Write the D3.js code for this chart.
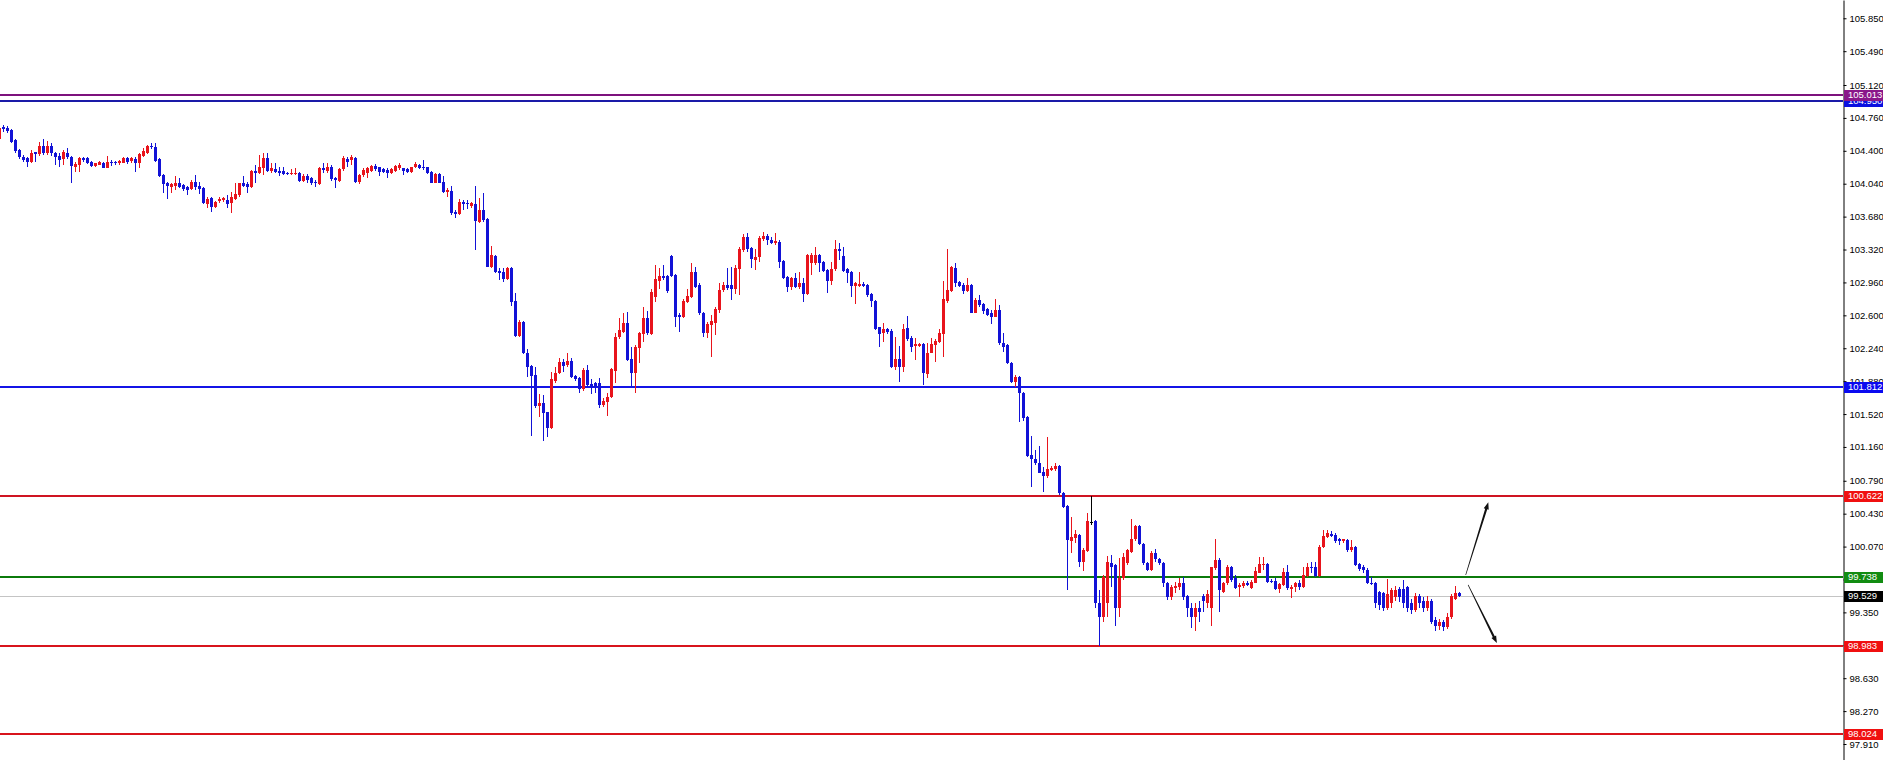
<!DOCTYPE html>
<html><head><meta charset="utf-8">
<script src="https://cdn.jsdelivr.net/npm/d3@7"></script>
<style>html,body{margin:0;padding:0;background:#fff;overflow:hidden}svg{display:block}</style>
</head><body><svg id="c" width="1883" height="760"></svg>
<script>
// ---- data (OHLC per bar) ----
const open = [
104.526,104.664,104.653,104.628,104.518,104.409,104.336,104.318,104.281,104.383,
104.362,104.453,104.372,104.453,104.380,104.343,104.307,104.380,104.336,104.227,
104.245,104.318,104.318,104.281,104.234,104.245,104.270,104.216,104.281,104.278,
104.263,104.270,104.318,104.292,104.311,104.270,104.343,104.372,104.456,104.445,
104.307,104.135,104.044,104.000,104.015,104.044,104.026,104.000,103.979,104.062,
104.015,103.990,103.818,103.880,103.782,103.855,103.862,103.862,103.825,103.876,
103.917,104.044,104.033,104.000,104.183,104.161,104.208,104.318,104.183,104.197,
104.183,104.183,104.161,104.146,104.146,104.161,104.073,104.124,104.099,104.062,
104.037,104.208,104.183,104.227,104.099,104.066,104.197,104.307,104.300,104.318,
104.062,104.135,104.154,104.183,104.234,104.219,104.201,104.190,104.154,104.183,
104.208,104.208,104.197,104.172,104.219,104.245,104.227,104.219,104.172,104.052,
104.146,104.062,103.953,103.964,103.734,103.709,103.844,103.833,103.796,103.818,
103.625,103.753,103.650,103.133,103.249,103.089,103.078,102.994,103.114,102.761,
102.374,102.531,102.192,102.046,101.947,101.608,101.637,101.546,101.364,101.885,
101.973,102.093,102.057,102.104,101.936,101.911,101.790,102.002,101.849,101.856,
101.863,101.619,101.656,101.703,101.995,102.359,102.421,102.520,102.119,101.973,
102.239,102.396,102.567,102.396,102.797,102.979,103.030,103.030,103.249,103.041,
102.604,102.578,102.750,102.797,103.078,102.932,102.622,102.410,102.494,102.520,
102.658,102.877,102.932,102.932,102.885,103.103,103.315,103.453,103.333,103.205,
103.242,103.432,103.468,103.424,103.395,103.406,103.198,103.023,102.906,103.005,
102.906,102.957,102.833,103.176,103.169,103.260,103.187,103.096,102.979,103.103,
103.322,103.249,103.103,103.078,102.921,102.921,102.943,102.932,102.833,102.761,
102.469,102.403,102.447,102.433,102.031,102.119,102.031,102.458,102.349,102.265,
102.265,102.287,101.958,102.192,102.276,102.312,102.396,102.761,102.870,103.115,
102.969,102.932,102.870,102.932,102.630,102.768,102.724,102.666,102.622,102.586,
102.659,102.294,102.276,102.082,101.875,101.929,101.754,101.484,101.072,101.032,
100.989,100.890,100.843,100.908,100.915,100.952,100.660,100.514,100.135,100.160,
100.200,99.900,100.026,100.343,100.354,99.450,99.300,99.450,99.894,99.869,
99.400,99.723,99.887,100.015,100.150,100.295,100.099,99.887,99.814,100.004,
99.931,99.894,99.676,99.522,99.614,99.624,99.668,99.530,99.400,99.300,
99.400,99.530,99.450,99.400,99.832,99.923,99.577,99.668,99.851,99.723,
99.624,99.639,99.676,99.614,99.676,99.785,99.869,99.880,99.697,99.697,
99.603,99.650,99.796,99.603,99.624,99.676,99.624,99.749,99.851,99.851,
99.749,100.062,100.171,100.208,100.197,100.150,100.135,100.142,100.033,100.069,
99.880,99.843,99.814,99.676,99.676,99.570,99.560,99.400,99.450,99.520,
99.610,99.610,99.630,99.450,99.380,99.530,99.480,99.400,99.480,99.270,
99.200,99.240,99.190,99.300,99.500,99.559];
const high = [
104.664,104.682,104.672,104.635,104.526,104.416,104.354,104.329,104.409,104.391,
104.500,104.526,104.511,104.489,104.391,104.372,104.409,104.427,104.343,104.281,
104.329,104.329,104.329,104.292,104.270,104.285,104.281,104.343,104.300,104.292,
104.300,104.336,104.336,104.329,104.336,104.380,104.427,104.464,104.482,104.482,
104.318,104.146,104.062,104.052,104.124,104.099,104.037,104.015,104.081,104.135,
104.062,104.000,103.891,103.898,103.855,103.891,103.891,103.917,103.953,104.044,
104.052,104.124,104.062,104.190,104.245,104.354,104.372,104.380,104.263,104.270,
104.227,104.227,104.172,104.197,104.208,104.172,104.146,104.146,104.117,104.081,
104.219,104.263,104.270,104.245,104.110,104.208,104.343,104.336,104.354,104.329,
104.146,104.208,104.227,104.245,104.256,104.227,104.208,104.208,104.208,104.245,
104.270,104.215,104.208,104.227,104.281,104.256,104.300,104.227,104.183,104.161,
104.154,104.124,103.990,104.015,103.753,103.869,103.862,103.862,103.844,104.015,
103.880,103.942,103.661,103.359,103.260,103.114,103.114,103.125,103.125,102.848,
102.549,102.542,102.228,102.057,102.031,101.739,101.728,101.546,101.984,102.038,
102.130,102.119,102.192,102.130,101.947,101.929,102.020,102.057,101.900,101.874,
101.911,101.692,101.747,102.020,102.410,102.567,102.622,102.640,102.257,102.276,
102.421,102.695,102.651,102.885,103.151,103.114,103.151,103.041,103.260,103.052,
102.629,102.775,102.885,103.169,103.125,102.950,102.640,102.531,102.604,102.695,
102.950,102.968,103.114,103.133,103.151,103.344,103.490,103.497,103.344,103.322,
103.468,103.515,103.490,103.453,103.497,103.424,103.205,103.030,103.023,103.067,
103.078,103.005,103.271,103.278,103.351,103.271,103.198,103.103,103.187,103.424,
103.395,103.344,103.114,103.089,102.968,103.078,102.968,102.943,102.848,102.768,
102.476,102.520,102.458,102.447,102.360,102.265,102.506,102.593,102.374,102.349,
102.301,102.301,102.301,102.349,102.338,102.447,102.980,103.322,103.140,103.169,
102.980,102.950,103.005,102.943,102.786,102.823,102.739,102.677,102.659,102.775,
102.713,102.403,102.287,102.093,101.948,101.937,101.765,101.499,101.280,101.127,
101.171,100.945,101.273,100.952,100.981,100.963,100.671,100.525,100.398,100.252,
100.210,100.050,100.434,100.624,100.360,99.600,99.760,99.967,99.978,99.880,
99.942,99.996,100.040,100.368,100.306,100.306,100.106,99.905,100.026,100.040,
99.942,99.905,99.686,99.650,99.686,99.723,99.734,99.540,99.450,99.450,
99.480,99.550,99.600,99.851,100.150,99.942,99.686,99.869,99.858,99.759,
99.668,99.690,99.690,99.705,99.843,99.953,99.960,99.887,99.712,99.723,
99.676,99.832,99.869,99.650,99.686,99.705,99.850,99.887,99.905,99.905,
100.088,100.252,100.252,100.244,100.215,100.160,100.157,100.150,100.142,100.077,
99.887,99.869,99.832,99.741,99.680,99.580,99.570,99.720,99.620,99.640,
99.630,99.700,99.640,99.500,99.560,99.550,99.520,99.530,99.500,99.300,
99.280,99.270,99.340,99.550,99.636,99.570];
const low = [
104.518,104.610,104.599,104.489,104.380,104.307,104.281,104.227,104.270,104.281,
104.343,104.354,104.354,104.343,104.245,104.219,104.245,104.307,104.044,104.172,
104.172,104.281,104.256,104.227,104.227,104.241,104.208,104.208,104.234,104.245,
104.245,104.263,104.256,104.263,104.172,104.208,104.336,104.365,104.416,104.281,
104.117,103.942,103.869,103.942,103.971,103.990,103.964,103.917,103.971,103.971,
103.928,103.818,103.771,103.734,103.771,103.825,103.844,103.771,103.723,103.862,
103.898,104.000,103.935,103.990,104.044,104.146,104.135,104.172,104.161,104.154,
104.124,104.135,104.135,104.135,104.135,104.062,104.062,104.052,104.026,104.000,
104.026,104.161,104.154,104.073,103.990,104.062,104.183,104.227,104.245,104.044,
104.037,104.117,104.099,104.172,104.183,104.124,104.154,104.099,104.146,104.172,
104.190,104.135,104.154,104.161,104.208,104.197,104.190,104.146,104.044,104.044,
104.044,103.942,103.898,103.698,103.661,103.698,103.753,103.760,103.771,103.315,
103.607,103.625,103.125,103.114,103.067,102.987,102.968,102.987,102.702,102.367,
102.359,102.177,101.922,101.280,101.583,101.484,101.229,101.273,101.353,101.863,
101.958,101.984,102.038,101.911,101.885,101.747,101.776,101.812,101.739,101.747,
101.583,101.594,101.499,101.692,101.856,102.338,102.410,102.104,101.820,101.747,
102.075,102.312,102.385,102.385,102.750,102.885,102.987,102.848,103.023,102.476,
102.421,102.567,102.731,102.786,102.896,102.604,102.367,102.348,102.148,102.385,
102.629,102.859,102.877,102.768,102.833,102.823,103.297,103.297,103.114,103.096,
103.187,103.417,103.370,103.381,103.370,103.114,102.994,102.859,102.877,102.903,
102.885,102.750,102.823,103.041,103.151,103.078,103.078,102.841,102.932,103.089,
103.205,103.078,102.950,102.804,102.724,102.914,102.914,102.804,102.695,102.440,
102.250,102.312,102.396,102.021,102.002,101.875,101.984,102.323,102.203,102.112,
102.250,101.838,101.911,102.185,102.093,102.301,102.141,102.732,102.859,102.907,
102.914,102.834,102.859,102.622,102.622,102.695,102.615,102.593,102.506,102.578,
102.276,102.203,102.068,101.864,101.813,101.437,101.448,101.054,100.726,100.963,
100.872,100.671,100.817,100.901,100.901,100.635,100.489,99.600,100.000,100.106,
99.850,99.800,100.015,100.306,99.400,98.983,99.250,99.300,99.632,99.200,
99.300,99.705,99.869,99.996,100.135,100.088,99.869,99.807,99.807,99.905,
99.869,99.632,99.486,99.486,99.559,99.595,99.486,99.300,99.180,99.150,
99.250,99.350,99.400,99.200,99.814,99.350,99.559,99.650,99.686,99.603,
99.522,99.620,99.640,99.603,99.668,99.778,99.814,99.676,99.668,99.595,
99.559,99.639,99.595,99.504,99.577,99.595,99.614,99.741,99.785,99.741,
99.741,100.051,100.160,100.171,100.106,100.088,100.113,100.015,100.015,99.858,
99.807,99.778,99.661,99.650,99.400,99.380,99.370,99.380,99.400,99.480,
99.460,99.400,99.350,99.330,99.350,99.400,99.350,99.360,99.220,99.150,
99.160,99.150,99.170,99.280,99.490,99.520];
const close = [
104.646,104.635,104.620,104.500,104.402,104.329,104.300,104.281,104.380,104.365,
104.453,104.372,104.453,104.372,104.336,104.300,104.391,104.329,104.234,104.256,
104.318,104.300,104.270,104.234,104.263,104.278,104.216,104.281,104.263,104.263,
104.285,104.318,104.281,104.318,104.270,104.365,104.402,104.453,104.438,104.292,
104.124,104.037,104.015,104.037,104.052,104.008,103.979,103.971,104.062,104.000,
103.979,103.825,103.869,103.782,103.844,103.869,103.880,103.818,103.898,103.928,
104.044,104.015,104.000,104.183,104.161,104.227,104.318,104.183,104.208,104.172,
104.161,104.146,104.146,104.161,104.161,104.073,104.124,104.081,104.044,104.044,
104.208,104.190,104.227,104.088,104.081,104.197,104.318,104.281,104.329,104.062,
104.135,104.190,104.208,104.234,104.197,104.172,104.172,104.154,104.197,104.234,
104.241,104.183,104.172,104.219,104.256,104.208,104.208,104.161,104.052,104.146,
104.052,103.953,103.971,103.723,103.709,103.844,103.818,103.818,103.825,103.636,
103.753,103.643,103.133,103.260,103.078,103.067,102.994,103.114,102.750,102.374,
102.531,102.192,102.038,101.936,101.608,101.645,101.535,101.364,101.900,101.973,
102.093,102.046,102.104,101.929,101.900,101.790,102.002,101.838,101.812,101.820,
101.619,101.666,101.710,102.009,102.367,102.440,102.520,102.111,101.973,102.250,
102.403,102.567,102.403,102.859,102.994,103.030,103.005,102.870,103.030,102.585,
102.585,102.761,102.812,103.078,102.906,102.622,102.410,102.505,102.542,102.666,
102.877,102.932,102.896,102.885,103.114,103.322,103.453,103.322,103.213,103.242,
103.442,103.468,103.424,103.395,103.417,103.187,103.005,102.906,103.005,102.914,
102.957,102.833,103.260,103.260,103.260,103.169,103.089,102.979,103.103,103.322,
103.308,103.089,103.060,102.921,102.950,102.943,102.921,102.823,102.761,102.447,
102.396,102.447,102.421,102.031,102.119,102.031,102.447,102.338,102.258,102.287,
102.287,101.966,102.192,102.287,102.323,102.403,102.775,102.878,103.126,102.958,
102.921,102.870,102.932,102.630,102.768,102.713,102.651,102.604,102.586,102.659,
102.294,102.258,102.075,101.875,101.929,101.747,101.474,101.061,101.025,100.981,
100.879,100.843,100.915,100.926,100.952,100.653,100.500,100.142,100.171,100.208,
99.900,100.030,100.354,100.343,99.450,99.300,99.741,99.905,99.851,99.400,
99.723,99.960,100.033,100.150,100.295,100.099,99.887,99.814,100.004,99.931,
99.887,99.668,99.522,99.624,99.639,99.668,99.522,99.400,99.300,99.400,
99.350,99.480,99.550,99.843,99.923,99.596,99.676,99.851,99.705,99.614,
99.650,99.676,99.650,99.686,99.807,99.880,99.880,99.686,99.686,99.603,
99.661,99.796,99.614,99.632,99.676,99.624,99.759,99.851,99.832,99.749,
100.069,100.186,100.215,100.186,100.135,100.135,100.150,100.033,100.069,99.869,
99.821,99.814,99.668,99.661,99.450,99.430,99.400,99.550,99.600,99.600,
99.520,99.450,99.400,99.380,99.530,99.450,99.400,99.480,99.250,99.200,
99.240,99.190,99.300,99.530,99.559,99.529];

const tickValues = [105.850,105.490,105.120,104.760,104.400,104.040,103.680,103.320,102.960,102.600,
  102.240,101.880,101.520,101.160,100.790,100.430,100.070,99.710,99.350,98.990,98.630,98.270,97.910];

// horizontal price levels (drawn in this order)
const levelValues = [104.950, 105.013, 101.812, 100.622, 99.738, 99.529, 98.983, 98.024];
// arrows: [bar index, price] start -> tip
const arrowStartBar = [366.6, 367.2];
const arrowStartPrice = [99.759, 99.650];
const arrowTipBar = [372.25, 374.4];
const arrowTipPrice = [100.554, 99.015];

// ---- styles ----
const levelLine = ["#1a1aa8", "#7d127d", "#1414e6", "#cf1422", "#0b7a0b", "#c4c4c4", "#d8141c", "#d8141c"];
const levelLineW = [2, 2, 2, 2, 2, 1, 2, 2];
const levelBox = ["#0a10e0", "#8a168a", "#0a0af0", "#f01010", "#128c12", "#000000", "#f01010", "#f01010"];
const BULL = "#e8141c", BEAR = "#1212d6";

const W = 1883, H = 760, AXIS_X = 1843;
const svg = d3.select("#c");
const x = d3.scaleLinear().domain([0, 365]).range([-0.7, 1459.3]);
const y = d3.scaleLinear().domain([106.050, 97.735]).range([0, H]);

svg.append("rect").attr("width", W).attr("height", H).attr("fill", "#fff");

// levels
const gl = svg.append("g").attr("shape-rendering", "crispEdges");
levelValues.forEach((v, k) => {
  const yy = Math.round(y(v));
  gl.append("rect").attr("x", 0).attr("width", AXIS_X)
    .attr("y", yy - (levelLineW[k] > 1 ? 1 : 0)).attr("height", levelLineW[k])
    .attr("fill", levelLine[k]);
});

// candles
const idx = d3.range(open.length);
const gc = svg.append("g").attr("shape-rendering", "crispEdges");
const col = i => close[i] > open[i] ? BULL : (close[i] < open[i] ? BEAR : "#000");
gc.selectAll("rect.w").data(idx).join("rect").attr("class", "w")
  .attr("x", i => Math.round(x(i)))
  .attr("width", 1)
  .attr("y", i => Math.round(y(high[i])))
  .attr("height", i => Math.max(1, Math.round(y(low[i])) - Math.round(y(high[i]))))
  .attr("fill", col);
gc.selectAll("rect.b").data(idx).join("rect").attr("class", "b")
  .attr("x", i => Math.round(x(i)) - 1)
  .attr("width", 3)
  .attr("y", i => Math.round(y(Math.max(open[i], close[i]))))
  .attr("height", i => Math.max(1, Math.round(y(Math.min(open[i], close[i]))) - Math.round(y(Math.max(open[i], close[i])))))
  .attr("fill", col);

// arrows
arrowStartBar.forEach((b, k) => {
  const x0 = x(b), y0 = y(arrowStartPrice[k]);
  const x1 = x(arrowTipBar[k]), y1 = y(arrowTipPrice[k]);
  const dx = x1 - x0, dy = y1 - y0, L = Math.hypot(dx, dy);
  const ux = dx / L, uy = dy / L, nx = -uy, ny = ux;
  const hl = 7, hw = 2.6, w0 = 0.35, w1 = 1.1;
  const bx = x1 - ux * hl, by = y1 - uy * hl;
  const pts = [
    [x0 + nx * w0, y0 + ny * w0], [bx + nx * w1, by + ny * w1], [bx + nx * hw, by + ny * hw],
    [x1, y1], [bx - nx * hw, by - ny * hw], [bx - nx * w1, by - ny * w1], [x0 - nx * w0, y0 - ny * w0]
  ];
  svg.append("polygon").attr("points", pts.map(p => p.join(",")).join(" ")).attr("fill", "#111");
});

// axis
const FONT = "'Liberation Sans', Arial, sans-serif";
const axis = d3.axisRight(y).tickValues(tickValues).tickFormat(d3.format(".3f"))
  .tickSizeInner(3).tickSizeOuter(0).tickPadding(3);
const ga = svg.append("g").attr("transform", `translate(${AXIS_X + 0.5},0)`).call(axis);
ga.select(".domain").attr("stroke", "#000");
ga.selectAll(".tick line").attr("stroke", "#000");
ga.selectAll("text").attr("font-family", FONT).attr("font-size", "9.5px").attr("fill", "#000");

// price labels
const gb = svg.append("g");
levelValues.forEach((v, k) => {
  const yy = y(v);
  gb.append("rect").attr("x", AXIS_X + 1).attr("y", Math.round(yy) - 5.5).attr("width", W - AXIS_X - 1).attr("height", 11)
    .attr("fill", levelBox[k]).attr("shape-rendering", "crispEdges");
  gb.append("text").attr("x", AXIS_X + 5).attr("y", Math.round(yy)).attr("dy", "0.35em")
    .attr("font-family", FONT).attr("font-size", "9.5px").attr("fill", "#fff")
    .text(d3.format(".3f")(v));
});
</script>
</body></html>
